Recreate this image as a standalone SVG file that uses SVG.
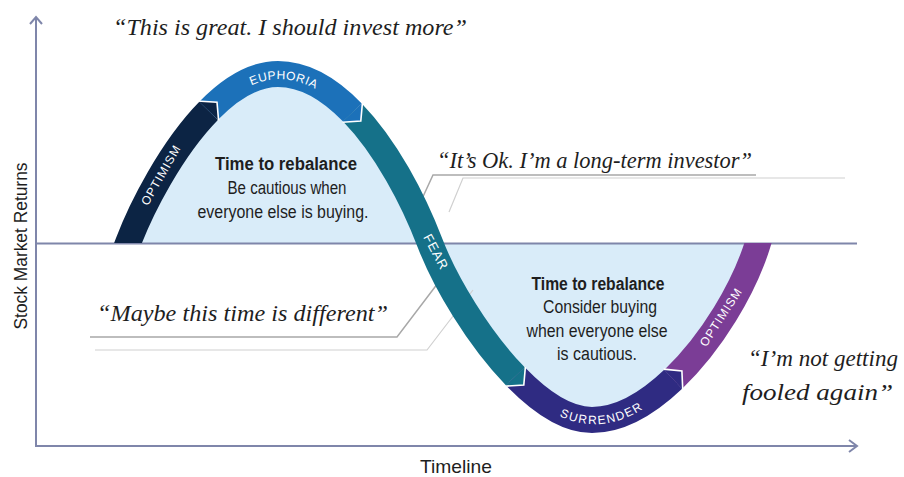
<svg xmlns="http://www.w3.org/2000/svg" width="904" height="477" viewBox="0 0 904 477">
<defs>
<style>
.axis{stroke:#7f86aa;stroke-width:2;fill:none}
.band{fill:none;stroke-width:26;stroke-linecap:butt}
.tipline{fill:none;stroke:#ffffff;stroke-width:1.6;stroke-linejoin:miter}
.lbl{font-family:'Liberation Sans',Arial,sans-serif;font-size:12px;fill:#ffffff;letter-spacing:1px}
.quote{font-family:'Liberation Serif','Times New Roman',serif;font-style:italic;font-size:24px;fill:#1e1e1e}
.body{font-family:'Liberation Sans Narrow','Liberation Sans',Arial,sans-serif;font-size:18px;fill:#1e1e1e;text-anchor:middle}
.bold{font-weight:bold}
.lead1{fill:none;stroke:#a8a8a8;stroke-width:1.5}
.lead2{fill:none;stroke:#d0d0d0;stroke-width:1.2}
.axislbl{font-family:'Liberation Sans Narrow','Liberation Sans',Arial,sans-serif;font-size:19px;fill:#1e1e1e}
</style>
<clipPath id="clipAbove"><rect x="0" y="0" width="904" height="243"/></clipPath>
<clipPath id="clipBelow"><rect x="0" y="243" width="904" height="234"/></clipPath>
<path id="pEuph" d="M232,92 Q282,56 335,97"/>
<path id="pSurr" d="M553,408 Q600,436 649,400"/>
</defs>

<g id="fill">
<path d="M128,243 C148,190 210,74 278,74 C345,74 402,170 430,243 C455,308 530,420 592,420 C660,420 735,318 758,243 Z" fill="#d9ecf9"/>
</g>

<g id="axes">
<line class="axis" x1="37" y1="243.5" x2="857" y2="243.5"/>
<polyline class="axis" points="36,17 36,446 857,446"/>
<polyline class="axis" points="30,24 36,17 42,24"/>
<polyline class="axis" points="849,440 857,446 849,452"/>
</g>

<g id="connectors">
<polyline class="lead1" points="756,175 433,175 421,201"/>
<polyline class="lead2" points="845,178 463,178 449,212"/>
<polyline class="lead1" points="90,337 397,337 438,283"/>
<polyline class="lead2" points="95,350 427,350 473,290"/>
</g>

<g id="optimism-right">
<path class="band" stroke="#7b3d96" clip-path="url(#clipBelow)" d="M673.2,379.3 C711.7,342.7 744.2,288 758,243 L761,233.4"/>
</g>
<g id="surrender">
<path class="band" stroke="#2f2b82" d="M515.4,376.4 C540.3,402.1 567.2,420 592,420 C619.2,420 647.5,403.7 673.2,379.3"/>
<polygon fill="#2f2b82" points="682.8,389.5 681.9,371 663.6,369.1"/>
<polyline class="tipline" points="682.8,391 681.9,371 663.6,369.1"/>
</g>
<g id="fear">
<path class="band" stroke="#157189" d="M352.4,112.5 C386,147.1 413.2,199.2 430,243 C445,282 478,337.9 515.4,376.4"/>
<polygon fill="#157189" points="505.4,386.2 523.8,385 525.4,366.6"/>
<polyline class="tipline" points="504,386.3 523.8,385 525.4,366.6"/>
</g>
<g id="euphoria">
<path class="band" stroke="#1c71b9" d="M208.6,110.8 C229.8,89 253.5,74 278,74 C304.8,74 330,89.4 352.4,112.5"/>
<polygon fill="#1c71b9" points="342.3,122.2 360.8,121.1 362.5,102.8"/>
<polyline class="tipline" points="342.3,122.2 360.8,121.1 362.6,101"/>
</g>
<g id="optimism-left">
<path class="band" stroke="#0c2444" clip-path="url(#clipAbove)" d="M124.5,252.4 L128,243 C140.8,209.1 170.8,149.4 208.6,110.8"/>
<polygon fill="#0c2444" points="218.6,120.6 217,102.2 198.6,101"/>
<polyline class="tipline" points="218.6,120.6 217,102.2 197,101"/>
</g>

<g id="band-labels">
<text class="lbl" transform="translate(161,175) rotate(-60)" text-anchor="middle" dominant-baseline="central">OPTIMISM</text>
<text class="lbl" dominant-baseline="central"><textPath href="#pEuph" startOffset="50%" text-anchor="middle">EUPHORIA</textPath></text>
<text class="lbl" style="font-size:13px" transform="translate(436,252) rotate(62)" text-anchor="middle" dominant-baseline="central">FEAR</text>
<text class="lbl" dominant-baseline="central"><textPath href="#pSurr" startOffset="50%" text-anchor="middle">SURRENDER</textPath></text>
<text class="lbl" transform="translate(721,317) rotate(-57)" text-anchor="middle" dominant-baseline="central">OPTIMISM</text>
</g>

<g id="upper-note">
<text class="body bold" x="286" y="170" textLength="142" lengthAdjust="spacingAndGlyphs">Time to rebalance</text>
<text class="body" x="287" y="194" textLength="119" lengthAdjust="spacingAndGlyphs">Be cautious when</text>
<text class="body" x="283" y="218" textLength="171" lengthAdjust="spacingAndGlyphs">everyone else is buying.</text>
</g>

<g id="lower-note">
<text class="body bold" x="598" y="290" textLength="133" lengthAdjust="spacingAndGlyphs">Time to rebalance</text>
<text class="body" x="600" y="313" textLength="114" lengthAdjust="spacingAndGlyphs">Consider buying</text>
<text class="body" x="597" y="337" textLength="141" lengthAdjust="spacingAndGlyphs">when everyone else</text>
<text class="body" x="597" y="360" textLength="80" lengthAdjust="spacingAndGlyphs">is cautious.</text>
</g>

<g id="quotes">
<text class="quote" x="113" y="35" textLength="354" lengthAdjust="spacingAndGlyphs">“This is great. I should invest more”</text>
<text class="quote" x="437" y="168" textLength="315" lengthAdjust="spacingAndGlyphs">“It’s Ok. I’m a long-term investor”</text>
<text class="quote" x="97" y="321" textLength="291" lengthAdjust="spacingAndGlyphs">“Maybe this time is different”</text>
<text class="quote" x="748" y="366" textLength="150" lengthAdjust="spacingAndGlyphs">“I’m not getting</text>
<text class="quote" x="742" y="400" textLength="151" lengthAdjust="spacingAndGlyphs">fooled again”</text>
</g>

<g id="axis-labels">
<text class="axislbl" transform="translate(27,246) rotate(-90)" text-anchor="middle" textLength="167" lengthAdjust="spacingAndGlyphs">Stock Market Returns</text>
<text class="axislbl" x="420" y="473" textLength="72" lengthAdjust="spacingAndGlyphs">Timeline</text>
</g>
</svg>
